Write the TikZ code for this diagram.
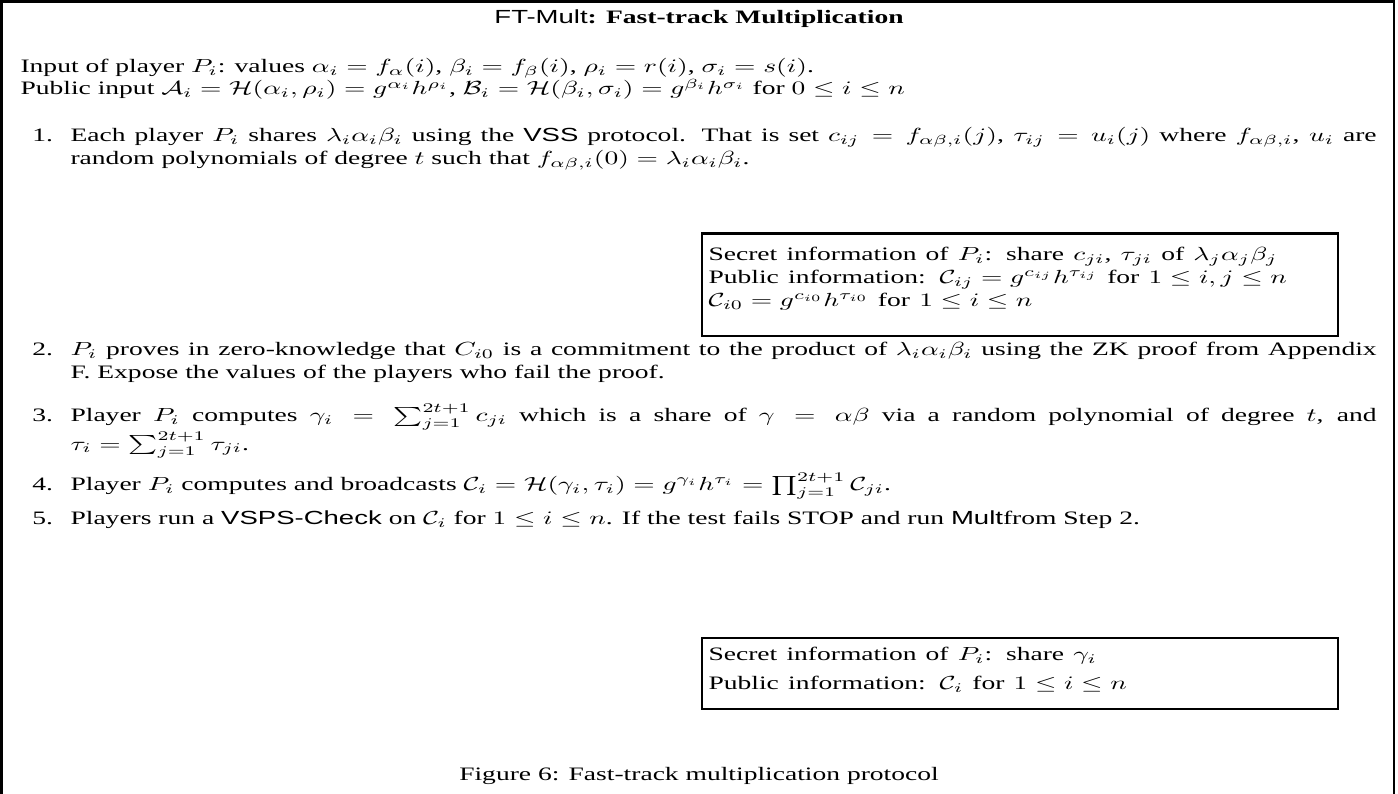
\documentclass[tikz,border=0pt]{standalone}
\usepackage{amsmath, amssymb}
\usepackage[no-math]{fontspec}
\setmainfont{Liberation Serif}
\setsansfont{Liberation Sans}
\usetikzlibrary{positioning}

\begin{document}
\begin{tikzpicture}[x=0.3632pt, y=-0.5263pt, xscale=1.45, transform shape,
        txt/.style={inner sep=0pt, anchor=base west},
        stepnum/.style={txt},
        stepitem/.style={txt, text width=474.4pt, align=justify},
        infobox/.style={draw, line width=1.4pt, minimum width=231pt, anchor=north west, inner sep=0pt},
        infotxt/.style={txt, text width=225pt, align=left}]
    \useasboundingbox (0,0) rectangle (1398,794);
    % frame, open at the bottom
    \draw[line width=1.5pt] (1.5,794) -- (1.5,1.5) -- (1394,1.5) -- (1394,794);

    \node (title) at (699,19) {\textsf{FT-Mult}\textbf{: Fast-track Multiplication}};
    \node[txt] (input) at (20,73) {Input of player $P_i$: values $\alpha_i=f_\alpha(i)$, $\beta_i=f_\beta(i)$, $\rho_i=r(i)$, $\sigma_i=s(i)$.};
    \node[txt] (public) at (20,95) {Public input $\mathcal{A}_i=\mathcal{H}(\alpha_i,\rho_i)=g^{\alpha_i}h^{\rho_i}$, $\mathcal{B}_i=\mathcal{H}(\beta_i,\sigma_i)=g^{\beta_i}h^{\sigma_i}$ for $0\leq i\leq n$};

    \node[stepitem] (s1) at (70,142) {Each player $P_i$ shares $\lambda_i\alpha_i\beta_i$ using the \textsf{VSS} protocol. That is set $c_{ij}=f_{\alpha\beta,i}(j)$, $\tau_{ij}=u_i(j)$ where $f_{\alpha\beta,i}$, $u_i$ are\linebreak random polynomials of degree $t$ such that $f_{\alpha\beta,i}(0)=\lambda_i\alpha_i\beta_i$.};
    \node[stepnum, left=6pt of s1.base west, anchor=base east] (n1) {1.};

    \node[infobox, minimum height=54.2pt] (box1) at (700,232) {};
    \node[infotxt] (info1) at (708,261) {Secret information of $P_i$: share $c_{ji}$, $\tau_{ji}$ of $\lambda_j\alpha_j\beta_j$\\
        Public information: $\mathcal{C}_{ij}=g^{c_{ij}}h^{\tau_{ij}}$ for $1\leq i,j\leq n$\\
        $\mathcal{C}_{i0}=g^{c_{i0}}h^{\tau_{i0}}$ for $1\leq i\leq n$};

    \node[stepitem] (s2) at (70,356) {$P_i$ proves in zero-knowledge that $C_{i0}$ is a commitment to the product of $\lambda_i\alpha_i\beta_i$ using the ZK proof from Appendix\linebreak F. Expose the values of the players who fail the proof.};
    \node[stepnum, left=6pt of s2.base west, anchor=base east] (n2) {2.};

    \node[stepitem] (s3) at (70,422) {Player $P_i$ computes $\gamma_i=\sum_{j=1}^{2t+1}c_{ji}$ which is a share of $\gamma=\alpha\beta$ via a random polynomial of degree $t$, and\linebreak $\tau_i=\sum_{j=1}^{2t+1}\tau_{ji}$.};
    \node[stepnum, left=6pt of s3.base west, anchor=base east] (n3) {3.};

    \node[stepitem] (s4) at (70,491) {Player $P_i$ computes and broadcasts $\mathcal{C}_i=\mathcal{H}(\gamma_i,\tau_i)=g^{\gamma_i}h^{\tau_i}=\prod_{j=1}^{2t+1}\mathcal{C}_{ji}$.};
    \node[stepnum, left=6pt of s4.base west, anchor=base east] (n4) {4.};

    \node[stepitem] (s5) at (70,525) {Players run a \textsf{VSPS-Check} on $\mathcal{C}_i$ for $1\leq i\leq n$. If the test fails STOP and run \textsf{Mult}from Step 2.};
    \node[stepnum, left=6pt of s5.base west, anchor=base east] (n5) {5.};

    \node[infobox, minimum height=37.4pt] (box2) at (700,637) {};
    \node[infotxt] (info2) at (708,661) {Secret information of $P_i$: share $\gamma_i$\\[3.3pt]
        Public information: $\mathcal{C}_i$ for $1\leq i\leq n$};

    \node (caption) at (699,776) {Figure 6: Fast-track multiplication protocol};
\end{tikzpicture}
\end{document}
